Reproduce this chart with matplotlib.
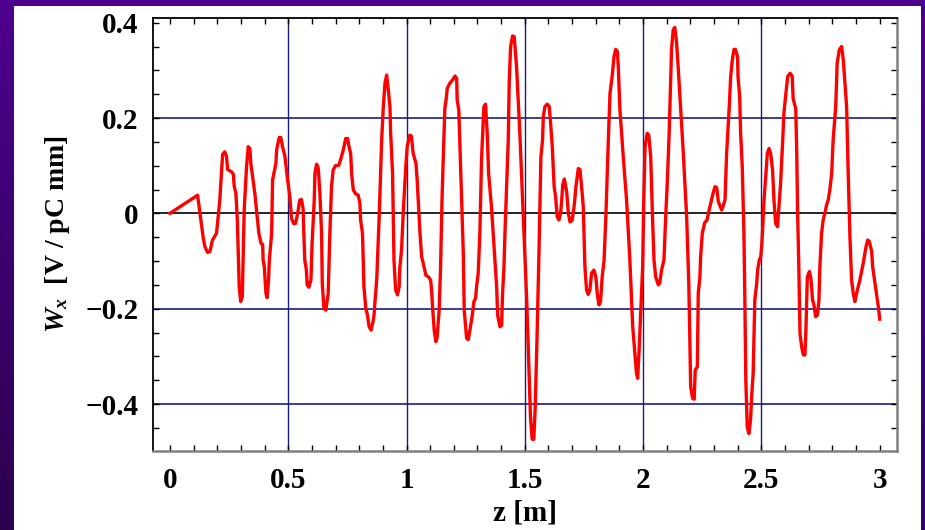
import numpy as np
import matplotlib
matplotlib.use("Agg")
import matplotlib.pyplot as plt
from matplotlib.patches import Rectangle
from matplotlib.ticker import MultipleLocator

# wake field W_x(z)
z = [0, 0.117, 0.141, 0.148, 0.159, 0.169, 0.18, 0.197, 0.211, 0.216,
     0.223, 0.232, 0.239, 0.244, 0.261, 0.268, 0.272, 0.279, 0.285, 0.289,
     0.293, 0.299, 0.306, 0.314, 0.324, 0.331, 0.338, 0.342, 0.359, 0.376,
     0.385, 0.392, 0.394, 0.399, 0.406, 0.411, 0.417, 0.42, 0.43, 0.434,
     0.448, 0.451, 0.462, 0.469, 0.476, 0.486, 0.496, 0.507, 0.514, 0.524,
     0.531, 0.54, 0.549, 0.556, 0.563, 0.566, 0.57, 0.577, 0.58, 0.587,
     0.596, 0.601, 0.61, 0.613, 0.62, 0.627, 0.634, 0.641, 0.644, 0.651,
     0.659, 0.669, 0.676, 0.683, 0.69, 0.7, 0.714, 0.721, 0.733, 0.743,
     0.751, 0.757, 0.764, 0.768, 0.775, 0.785, 0.796, 0.803, 0.806, 0.814,
     0.82, 0.828, 0.835, 0.842, 0.85, 0.857, 0.863, 0.866, 0.874, 0.885,
     0.895, 0.902, 0.909, 0.916, 0.923, 0.93, 0.933, 0.941, 0.947, 0.954,
     0.962, 0.969, 0.972, 0.979, 0.986, 0.997, 1.003, 1.014, 1.021, 1.028,
     1.04, 1.045, 1.057, 1.064, 1.074, 1.082, 1.092, 1.102, 1.106, 1.11,
     1.117, 1.124, 1.129, 1.138, 1.144, 1.15, 1.155, 1.162, 1.169, 1.172,
     1.183, 1.195, 1.205, 1.212, 1.214, 1.221, 1.226, 1.233, 1.24, 1.244,
     1.254, 1.261, 1.268, 1.279, 1.285, 1.292, 1.296, 1.303, 1.31, 1.317,
     1.327, 1.334, 1.341, 1.347, 1.359, 1.369, 1.381, 1.385, 1.395, 1.402,
     1.406, 1.412, 1.416, 1.43, 1.434, 1.44, 1.448, 1.455, 1.465, 1.479,
     1.493, 1.508, 1.522, 1.524, 1.531, 1.538, 1.544, 1.552, 1.56, 1.568,
     1.575, 1.578, 1.585, 1.595, 1.603, 1.609, 1.616, 1.624, 1.63, 1.637,
     1.644, 1.651, 1.656, 1.66, 1.667, 1.677, 1.684, 1.691, 1.7, 1.709,
     1.716, 1.726, 1.733, 1.74, 1.747, 1.754, 1.761, 1.768, 1.775, 1.782,
     1.792, 1.8, 1.806, 1.813, 1.82, 1.827, 1.835, 1.843, 1.853, 1.86,
     1.869, 1.877, 1.884, 1.891, 1.895, 1.902, 1.916, 1.93, 1.944, 1.956,
     1.965, 1.972, 1.977, 1.983, 1.989, 1.998, 2.003, 2.008, 2.017, 2.024,
     2.032, 2.04, 2.046, 2.053, 2.064, 2.07, 2.078, 2.088, 2.096, 2.102,
     2.11, 2.12, 2.127, 2.134, 2.141, 2.148, 2.158, 2.169, 2.184, 2.193,
     2.201, 2.209, 2.216, 2.22, 2.229, 2.233, 2.24, 2.243, 2.25, 2.26,
     2.27, 2.279, 2.289, 2.297, 2.304, 2.311, 2.318, 2.332, 2.339, 2.346,
     2.353, 2.364, 2.37, 2.377, 2.384, 2.39, 2.399, 2.401, 2.408, 2.412,
     2.419, 2.426, 2.43, 2.434, 2.44, 2.447, 2.454, 2.458, 2.465, 2.472,
     2.48, 2.484, 2.491, 2.497, 2.501, 2.505, 2.511, 2.519, 2.525, 2.532,
     2.539, 2.547, 2.553, 2.56, 2.568, 2.574, 2.581, 2.59, 2.595, 2.604,
     2.611, 2.621, 2.63, 2.634, 2.645, 2.649, 2.653, 2.658, 2.663, 2.67,
     2.677, 2.684, 2.688, 2.694, 2.703, 2.71, 2.716, 2.722, 2.729, 2.737,
     2.743, 2.747, 2.754, 2.761, 2.768, 2.775, 2.782, 2.789, 2.797, 2.803,
     2.814, 2.82, 2.829, 2.839, 2.846, 2.853, 2.86, 2.866, 2.874, 2.881,
     2.888, 2.895, 2.902, 2.916, 2.93, 2.942, 2.949, 2.956, 2.966, 2.97,
     2.98, 2.994, 3.0]

wx = [0, 0.038, -0.052, -0.07, -0.082, -0.08, -0.056, -0.042, 0.028, 0.07,
      0.124, 0.129, 0.12, 0.092, 0.087, 0.082, 0.056, 0.042, -0.014, -0.084,
      -0.154, -0.185, -0.175, 0.007, 0.098, 0.14, 0.136, 0.105, 0.042, -0.042,
      -0.063, -0.065, -0.098, -0.112, -0.168, -0.177, -0.14, -0.1, -0.042, 0.07,
      0.105, 0.133, 0.159, 0.159, 0.14, 0.12, 0.077, 0.035, -0.011, -0.022,
      -0.021, 0.0, 0.028, 0.029, 0.01, -0.042, -0.098, -0.119, -0.15, -0.155,
      -0.14, -0.063, 0.028, 0.084, 0.103, 0.095, 0.042, -0.042, -0.147, -0.2,
      -0.203, -0.168, -0.042, 0.056, 0.091, 0.1, 0.101, 0.112, 0.133, 0.157,
      0.157, 0.14, 0.126, 0.084, 0.049, 0.041, 0.038, 0.021, -0.014, -0.042,
      -0.154, -0.2, -0.213, -0.238, -0.245, -0.231, -0.213, -0.19, -0.14, 0.0,
      0.154, 0.224, 0.273, 0.29, 0.259, 0.224, 0.168, 0.084, -0.098, -0.161,
      -0.171, -0.154, -0.112, -0.077, 0.0, 0.098, 0.14, 0.164, 0.162, 0.126,
      0.105, 0.07, -0.042, -0.091, -0.112, -0.13, -0.133, -0.14, -0.161, -0.196,
      -0.245, -0.269, -0.262, -0.203, -0.112, 0.028, 0.112, 0.22, 0.245, 0.262,
      0.273, 0.28, 0.288, 0.283, 0.238, 0.217, 0.14, 0.028, -0.084, -0.203,
      -0.262, -0.265, -0.245, -0.21, -0.185, -0.178, -0.154, -0.126, -0.042, 0.112,
      0.224, 0.229, 0.168, 0.084, 0.014, -0.063, -0.154, -0.213, -0.238, -0.235,
      -0.168, -0.112, -0.042, 0.154, 0.273, 0.35, 0.372, 0.371, 0.308, 0.168,
      0.0, -0.182, -0.392, -0.427, -0.474, -0.474, -0.406, -0.252, -0.077, 0.119,
      0.154, 0.203, 0.224, 0.229, 0.224, 0.189, 0.14, 0.056, 0.035, -0.007,
      -0.014, 0.0, 0.028, 0.059, 0.072, 0.045, 0.0, -0.018, -0.015, 0.017,
      0.056, 0.094, 0.092, 0.056, 0.014, -0.112, -0.161, -0.17, -0.161, -0.126,
      -0.119, -0.133, -0.168, -0.192, -0.185, -0.133, -0.098, 0.0, 0.154, 0.252,
      0.287, 0.329, 0.344, 0.34, 0.308, 0.217, 0.119, 0.028, -0.098, -0.238,
      -0.294, -0.336, -0.346, -0.287, -0.217, -0.112, 0.035, 0.14, 0.168, 0.164,
      0.119, -0.014, -0.098, -0.133, -0.15, -0.147, -0.119, -0.098, 0.0, 0.063,
      0.168, 0.343, 0.385, 0.39, 0.36, 0.308, 0.224, 0.133, -0.007, -0.147,
      -0.364, -0.388, -0.39, -0.329, -0.322, -0.168, -0.133, -0.091, -0.042, -0.02,
      -0.014, 0.007, 0.028, 0.045, 0.056, 0.054, 0.024, 0.007, 0.017, 0.028,
      0.126, 0.224, 0.287, 0.322, 0.344, 0.344, 0.329, 0.287, 0.245, 0.168,
      0.098, -0.042, -0.182, -0.35, -0.448, -0.462, -0.434, -0.39, -0.336, -0.182,
      -0.147, -0.119, -0.098, -0.091, -0.07, -0.035, 0.028, 0.084, 0.126, 0.136,
      0.126, 0.091, 0.028, -0.021, -0.028, 0.014, 0.063, 0.154, 0.21, 0.255,
      0.287, 0.294, 0.288, 0.24, 0.22, 0.133, 0.0, -0.112, -0.252, -0.28,
      -0.297, -0.297, -0.245, -0.133, -0.122, -0.14, -0.182, -0.192, -0.217, -0.213,
      -0.182, -0.112, -0.042, -0.014, 0.0, 0.017, 0.028, 0.049, 0.084, 0.154,
      0.224, 0.315, 0.343, 0.35, 0.322, 0.273, 0.224, 0.098, -0.049, -0.14,
      -0.168, -0.185, -0.168, -0.14, -0.105, -0.07, -0.056, -0.059, -0.08, -0.112,
      -0.147, -0.196, -0.222]

xticks = [0, 0.5, 1, 1.5, 2, 2.5, 3]
xticklabels = ['0', '0.5', '1', '1.5', '2', '2.5', '3']
yticks = [-0.4, -0.2, 0, 0.2, 0.4]
yticklabels = ['\u22120.4', '\u22120.2', '0', '0.2', '0.4']

plt.rcParams['font.family'] = ['Liberation Serif', 'DejaVu Serif']
plt.rcParams['font.weight'] = 'bold'
plt.rcParams['mathtext.fontset'] = 'custom'
plt.rcParams['mathtext.it'] = 'Liberation Serif:italic:bold'
plt.rcParams['mathtext.rm'] = 'Liberation Serif:bold'

fig = plt.figure(figsize=(9.25, 5.3), dpi=100)

# purple slide background with a white panel on it
bg = fig.add_axes([0, 0, 1, 1])
u, v = np.meshgrid(np.linspace(0, 1, 200), np.linspace(0, 1, 200))
shade = 1 - 0.45 * v * (1 - 0.4 * u)
base = np.array([78, 0, 142]) / 255
img = shade[..., None] * base
bg.imshow(img, extent=(0, 1, 0, 1), aspect='auto', origin='upper')
bg.add_patch(Rectangle((14 / 925, 0), 907 / 925, 524 / 530,
                       facecolor='white', edgecolor='none'))
bg.set_xlim(0, 1)
bg.set_ylim(0, 1)
bg.axis('off')

ax = fig.add_axes([0.165, 0.1496, 0.805, 0.8166])
ax.set_xlim(-0.073, 3.074)
ax.set_ylim(-0.498, 0.41)

for gx in [0.5, 1, 1.5, 2, 2.5]:
    ax.axvline(gx, color='#1c1c80', lw=1.0, zorder=1)
for gy in [-0.4, -0.2, 0.2]:
    ax.axhline(gy, color='#1c1c80', lw=1.2, zorder=1)
ax.axhline(0, color='black', lw=1.2, zorder=1)

ax.plot(z, wx, color='#ff0000', lw=2.4, solid_joinstyle='round', zorder=3)

ax.set_xticks(xticks)
ax.set_xticklabels(xticklabels)
ax.set_yticks(yticks)
ax.set_yticklabels(yticklabels)
ax.xaxis.set_minor_locator(MultipleLocator(0.1))
ax.yaxis.set_minor_locator(MultipleLocator(0.05))
ax.tick_params(which='both', direction='in', top=True, right=True,
               labelsize=21, width=1.0)
ax.tick_params(which='major', length=4)
ax.tick_params(which='minor', length=4)
ax.tick_params(axis='x', pad=12)
ax.tick_params(axis='y', pad=10)

for s in ['left', 'top']:
    ax.spines[s].set_color('black')
    ax.spines[s].set_linewidth(1.3)
for s in ['right', 'bottom']:
    ax.spines[s].set_color('#808080')
    ax.spines[s].set_linewidth(1.8)

ax.set_xlabel('z [m]', fontsize=21, fontweight='bold', labelpad=4)
ax.set_ylabel(r'$W_x$  [V / pC mm]', fontsize=20, fontweight='bold', labelpad=10)

fig.savefig('out.png', dpi=100)
